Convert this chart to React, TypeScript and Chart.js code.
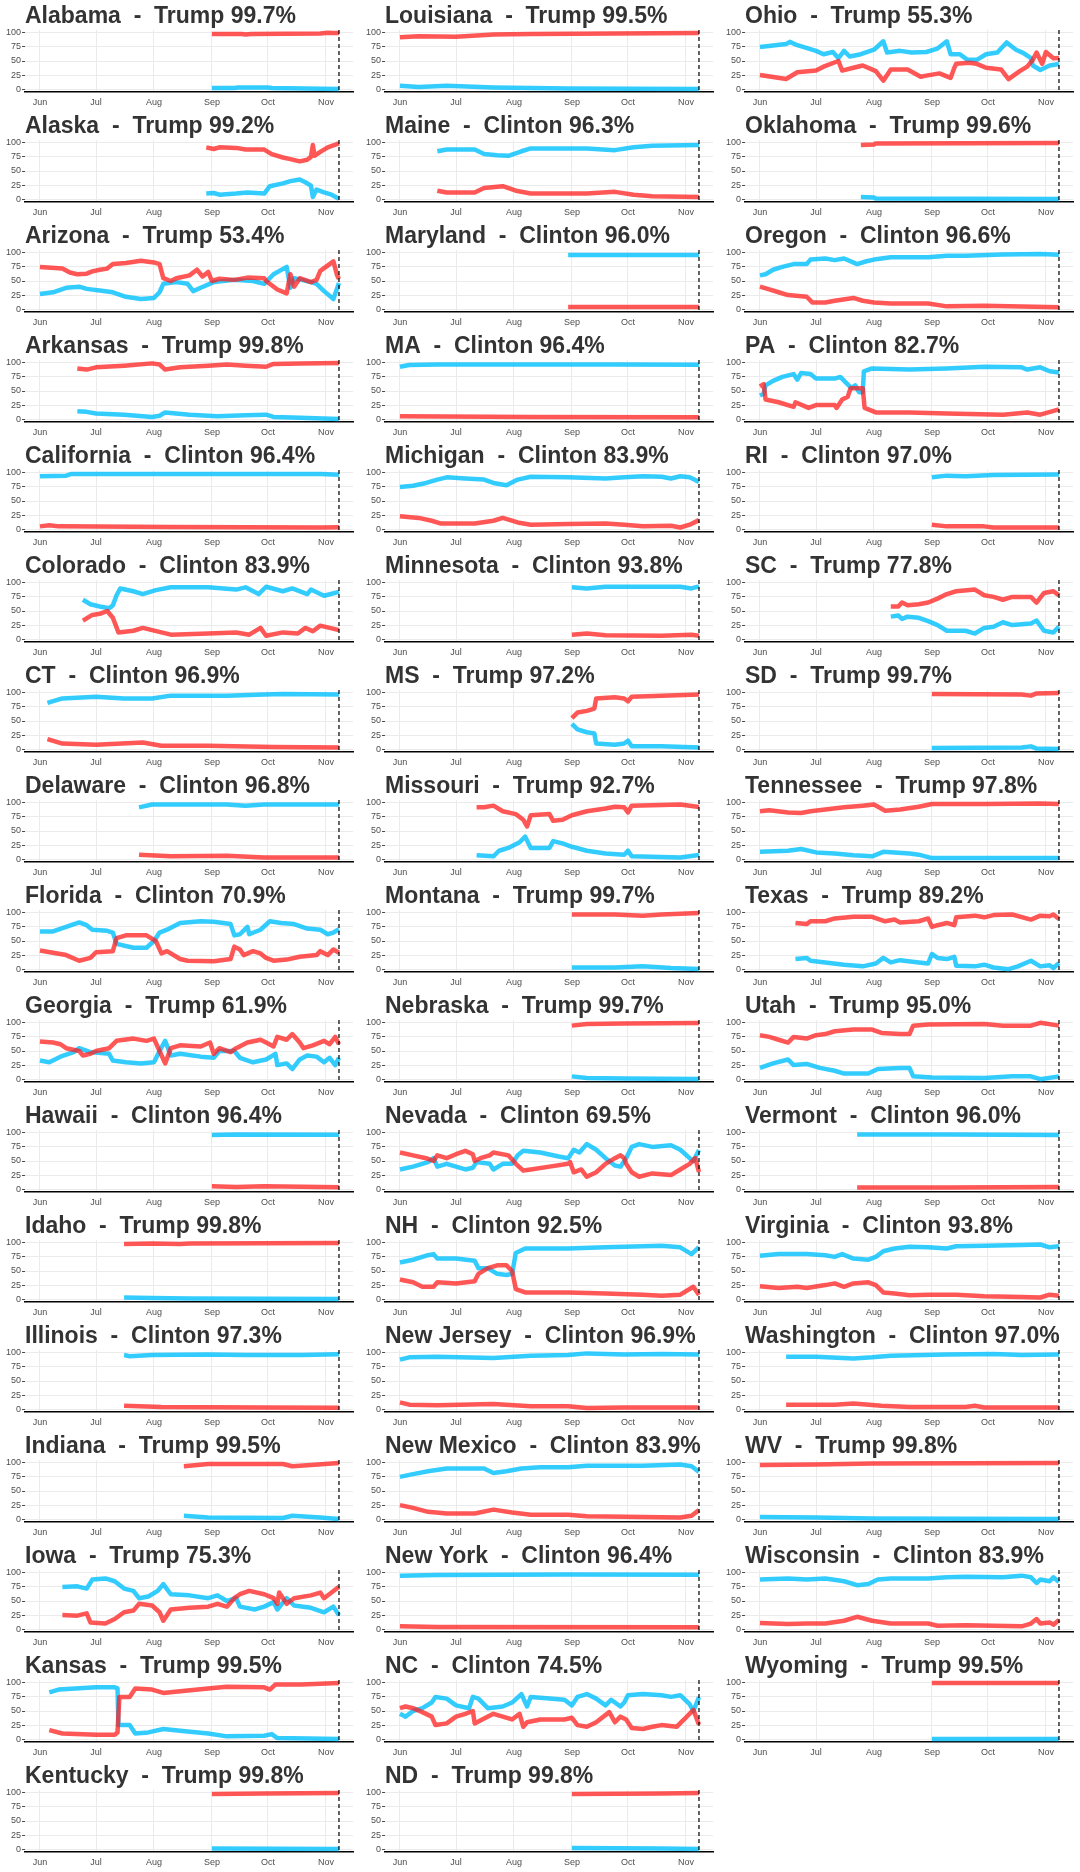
import React, { useEffect, useRef } from "react";
import { Chart, registerables } from "chart.js";
Chart.register(...registerables);

type P = [number, number];

// x values are days since June 1, 2016
const MONTH_DAYS = [0, 30, 61, 92, 122, 153];
const MONTH_LABELS = ["Jun", "Jul", "Aug", "Sep", "Oct", "Nov"];
const Y_TICKS = [0, 25, 50, 75, 100];
const ELECTION_DAY = 160;

const STATE_NAMES = [
  "Alabama", "Alaska", "Arizona", "Arkansas", "California", "Colorado", "CT", "Delaware", "Florida", "Georgia", "Hawaii", "Idaho", "Illinois", "Indiana", "Iowa", "Kansas", "Kentucky",
  "Louisiana", "Maine", "Maryland", "MA", "Michigan", "Minnesota", "MS", "Missouri", "Montana", "Nebraska", "Nevada", "NH", "New Jersey", "New Mexico", "New York", "NC", "ND",
  "Ohio", "Oklahoma", "Oregon", "PA", "RI", "SC", "SD", "Tennessee", "Texas", "Utah", "Vermont", "Virginia", "Washington", "WV", "Wisconsin", "Wyoming",
];
const LEADERS = [
  "Trump 99.7%", "Trump 99.2%", "Trump 53.4%", "Trump 99.8%", "Clinton 96.4%", "Clinton 83.9%", "Clinton 96.9%", "Clinton 96.8%", "Clinton 70.9%", "Trump 61.9%", "Clinton 96.4%", "Trump 99.8%", "Clinton 97.3%", "Trump 99.5%", "Trump 75.3%", "Trump 99.5%", "Trump 99.8%",
  "Trump 99.5%", "Clinton 96.3%", "Clinton 96.0%", "Clinton 96.4%", "Clinton 83.9%", "Clinton 93.8%", "Trump 97.2%", "Trump 92.7%", "Trump 99.7%", "Trump 99.7%", "Clinton 69.5%", "Clinton 92.5%", "Clinton 96.9%", "Clinton 83.9%", "Clinton 96.4%", "Clinton 74.5%", "Trump 99.8%",
  "Trump 55.3%", "Trump 99.6%", "Clinton 96.6%", "Clinton 82.7%", "Clinton 97.0%", "Trump 77.8%", "Trump 99.7%", "Trump 97.8%", "Trump 89.2%", "Trump 95.0%", "Clinton 96.0%", "Clinton 93.8%", "Clinton 97.0%", "Trump 99.8%", "Clinton 83.9%", "Trump 99.5%",
];

// ---- series: [day, probability %] ----
const AL_T: P[] = [[92,98],[108,98],[110,97],[113,98],[150,99],[154,100],[157,99.5],[160,99.7]];
const AL_C: P[] = [[92,2],[104,2],[106,3],[122,3],[124,2],[160,0.3]];
const AK_T: P[] = [[89,92],[93,89],[96,92],[105,91],[110,88],[120,88],[124,80],[130,74],[134,71],[139,67],[143,70],[145,75],[146,96],[147,77],[150,84],[154,92],[160,99.2]];
const AK_C: P[] = [[89,10],[93,11],[96,8],[105,10],[111,12],[120,10],[123,23],[130,28],[134,32],[139,35],[142,30],[145,24],[146,4],[148,17],[152,12],[156,8],[160,0.8]];
const AZ_T: P[] = [[0,75],[12,72],[16,65],[20,62],[25,63],[28,67],[32,70],[36,72],[39,80],[46,82],[54,86],[61,83],[64,80],[66,55],[70,50],[73,55],[80,60],[84,70],[87,58],[90,66],[92,50],[96,54],[104,52],[111,56],[120,55],[121,50],[127,35],[132,28],[134,62],[136,40],[139,55],[145,48],[148,52],[150,68],[155,80],[157,85],[159,60],[160,53.4]];
const AZ_C: P[] = [[0,27],[7,30],[14,38],[21,40],[25,36],[32,33],[39,30],[46,22],[54,18],[61,20],[64,30],[66,45],[73,48],[79,45],[82,32],[86,38],[93,48],[104,52],[114,50],[120,45],[125,62],[132,75],[134,38],[136,55],[145,48],[148,45],[152,32],[157,18],[160,46.6]];
const AR_T: P[] = [[20,90],[25,88],[30,92],[45,95],[60,99],[64,97],[67,88],[75,92],[90,95],[100,97],[110,95],[121,93],[125,98],[140,99],[160,99.8]];
const AR_C: P[] = [[20,14],[25,13],[30,10],[45,8],[60,4],[64,6],[67,12],[80,8],[95,5],[110,7],[121,8],[125,4],[135,3],[160,0.2]];
const CA_T: P[] = [[0,5],[5,7],[10,5],[70,4],[150,3],[160,3.6]];
const CA_C: P[] = [[0,94],[14,95],[17,98],[150,98],[160,96.4]];
const CO_T: P[] = [[23,33],[28,43],[32,45],[36,50],[39,38],[42,12],[50,15],[55,20],[65,12],[70,8],[90,10],[105,12],[112,8],[118,20],[121,6],[130,12],[138,10],[142,20],[146,14],[150,24],[160,16.1]];
const CO_C: P[] = [[23,70],[27,62],[32,58],[37,55],[39,60],[41,78],[43,90],[50,85],[55,80],[62,87],[70,92],[90,92],[105,88],[110,92],[117,80],[121,93],[130,85],[135,90],[143,80],[145,88],[152,77],[160,83.9]];
const CT_T: P[] = [[4,18],[12,10],[30,8],[55,12],[65,6],[90,6],[125,4],[160,3.1]];
const CT_C: P[] = [[4,82],[12,90],[30,93],[45,90],[60,90],[70,95],[100,95],[120,97],[130,98],[160,96.9]];
const DE_T: P[] = [[53,8],[70,5],[100,6],[120,3],[160,3.2]];
const DE_C: P[] = [[53,92],[60,97],[100,97],[110,95],[120,97],[160,96.8]];
const FL_T: P[] = [[0,33],[14,25],[21,15],[27,20],[30,30],[39,32],[41,55],[46,60],[57,60],[62,50],[65,28],[68,32],[75,18],[79,15],[93,14],[102,18],[104,40],[107,35],[109,25],[114,32],[118,28],[121,20],[125,15],[132,17],[139,22],[148,25],[150,32],[154,25],[157,35],[160,29.1]];
const FL_C: P[] = [[0,67],[7,67],[14,75],[21,83],[25,78],[28,70],[36,68],[39,65],[41,45],[50,38],[57,38],[61,50],[64,65],[68,70],[75,82],[86,85],[93,84],[102,80],[104,60],[107,62],[111,75],[112,62],[118,70],[123,85],[129,82],[136,80],[143,72],[150,70],[154,62],[157,65],[160,70.9]];
const GA_T: P[] = [[0,67],[7,65],[11,62],[14,55],[21,50],[23,42],[27,45],[30,50],[37,55],[41,68],[50,72],[57,68],[61,72],[64,50],[67,28],[70,55],[75,60],[86,58],[91,65],[93,45],[96,55],[102,48],[105,55],[111,65],[118,70],[121,65],[125,58],[127,75],[132,70],[135,80],[139,65],[141,55],[146,60],[152,68],[155,62],[158,75],[160,61.9]];
const GA_C: P[] = [[0,33],[5,30],[11,40],[18,48],[21,55],[27,48],[37,45],[39,33],[46,30],[54,28],[61,30],[64,50],[67,68],[70,42],[75,45],[86,40],[93,38],[96,50],[104,50],[107,38],[114,30],[121,35],[126,45],[127,25],[132,28],[135,18],[139,35],[143,42],[148,40],[152,30],[155,38],[158,25],[160,38.1]];
const HI_T: P[] = [[92,5],[105,4],[120,5],[160,3.6]];
const HI_C: P[] = [[92,96],[105,97],[160,96.4]];
const ID_T: P[] = [[45,98],[60,99],[75,98],[80,99],[160,99.8]];
const ID_C: P[] = [[45,3],[60,2],[80,1],[160,0.2]];
const IL_T: P[] = [[45,6],[65,4],[120,3],[160,2.7]];
const IL_C: P[] = [[45,96],[48,94],[60,96],[90,97],[110,96],[140,96],[160,97.3]];
const IN_T: P[] = [[77,94],[90,98],[130,98],[135,94],[145,96],[160,99.5]];
const IN_C: P[] = [[77,6],[90,3],[130,2],[135,6],[150,3],[160,0.5]];
const IA_T: P[] = [[12,25],[20,24],[25,28],[27,12],[35,10],[40,18],[45,30],[50,33],[53,45],[60,42],[64,30],[66,15],[70,35],[80,38],[90,40],[95,45],[100,40],[104,55],[107,62],[112,68],[120,62],[125,55],[127,45],[128,65],[132,45],[136,55],[145,60],[150,65],[152,55],[156,65],[160,75.3]];
const IA_C: P[] = [[12,75],[20,76],[25,72],[28,88],[35,90],[40,85],[45,72],[50,68],[53,55],[58,58],[63,68],[66,80],[70,62],[80,60],[90,55],[95,60],[100,50],[105,55],[107,40],[115,35],[120,40],[125,48],[127,35],[132,55],[136,42],[145,38],[152,30],[157,40],[160,24.7]];
const KS_T: P[] = [[5,16],[12,10],[30,8],[40,8],[41.5,12],[42.5,75],[48,75],[51,90],[60,88],[66,82],[75,85],[90,90],[100,93],[120,92],[123,88],[126,97],[140,97],[160,99.5]];
const KS_C: P[] = [[5,83],[10,88],[30,92],[40,92],[41.5,90],[42,25],[48,25],[51,10],[58,12],[66,18],[75,15],[90,10],[100,5],[120,6],[124,9],[127,2],[160,0.5]];
const KY_T: P[] = [[92,98],[120,99],[160,99.8]];
const KY_C: P[] = [[92,1],[160,0.2]];
const LA_T: P[] = [[0,92],[10,94],[30,93],[50,97],[70,98],[160,99.5]];
const LA_C: P[] = [[0,6],[10,4],[25,6],[50,3],[90,1],[160,0.5]];
const ME_T: P[] = [[20,15],[25,12],[40,12],[45,20],[55,23],[62,15],[70,10],[100,10],[115,13],[125,8],[135,5],[160,3.7]];
const ME_C: P[] = [[20,85],[25,88],[40,88],[45,80],[52,78],[58,77],[65,85],[70,90],[100,90],[115,87],[125,92],[135,95],[160,96.3]];
const MD_T: P[] = [[90,4],[125,4],[160,4]];
const MD_C: P[] = [[90,96],[125,96],[160,96]];
const MA_T: P[] = [[0,5],[70,4],[160,3.6]];
const MA_C: P[] = [[0,93],[5,96],[20,97],[115,97],[160,96.4]];
const MI_T: P[] = [[0,23],[10,20],[17,15],[22,10],[40,10],[50,15],[55,20],[63,12],[70,8],[90,9],[110,10],[120,8],[130,5],[145,6],[150,3],[155,8],[160,16.1]];
const MI_C: P[] = [[0,75],[7,77],[14,82],[20,88],[25,92],[35,90],[45,88],[50,82],[57,78],[63,88],[70,93],[90,92],[110,90],[120,92],[130,94],[140,93],[145,90],[150,94],[155,92],[160,83.9]];
const MN_T: P[] = [[92,8],[100,10],[110,7],[140,6],[156,8],[160,6.2]];
const MN_C: P[] = [[92,92],[100,90],[110,93],[150,93],[156,90],[160,93.8]];
const MS_T: P[] = [[92,55],[95,65],[100,68],[104,72],[105,90],[115,92],[120,90],[122,85],[124,93],[140,95],[160,97.2]];
const MS_C: P[] = [[92,45],[95,35],[100,30],[104,28],[105,10],[115,8],[120,10],[122,15],[124,5],[140,5],[160,2.8]];
const MO_T: P[] = [[41,92],[45,92],[50,95],[55,85],[62,80],[66,70],[68,58],[70,78],[80,80],[82,68],[87,70],[92,78],[100,85],[110,90],[115,93],[120,92],[122,83],[124,95],[140,96],[150,97],[160,92.7]];
const MO_C: P[] = [[41,7],[50,5],[53,15],[58,20],[64,30],[67,40],[70,20],[80,20],[82,32],[87,28],[92,22],[100,15],[110,10],[120,8],[122,15],[124,5],[150,3],[160,7.3]];
const MT_T: P[] = [[92,97],[115,97],[130,95],[140,97],[160,99.7]];
const MT_C: P[] = [[92,3],[115,3],[130,5],[145,2],[160,0.3]];
const NE_T: P[] = [[92,95],[100,98],[120,99],[160,99.7]];
const NE_C: P[] = [[92,5],[100,2],[120,1],[160,0.3]];
const NV_T: P[] = [[0,65],[7,60],[14,55],[18,50],[20,60],[25,55],[30,62],[35,68],[39,62],[40,50],[43,55],[48,60],[50,65],[58,60],[62,45],[66,33],[70,35],[80,40],[90,45],[91,48],[93,30],[97,35],[100,22],[105,30],[110,45],[115,55],[118,60],[120,55],[121,45],[124,30],[128,22],[135,28],[145,25],[150,35],[155,45],[158,55],[160,30.5]];
const NV_C: P[] = [[0,35],[7,40],[15,48],[18,55],[20,40],[25,45],[30,40],[35,35],[39,38],[41,48],[48,45],[50,35],[55,45],[60,45],[63,60],[66,68],[75,65],[85,58],[90,55],[93,70],[96,65],[100,80],[105,70],[110,55],[115,42],[118,40],[121,55],[124,75],[128,80],[135,75],[145,78],[150,70],[155,55],[157,50],[160,69.5]];
const NH_T: P[] = [[0,35],[7,30],[12,22],[18,22],[20,30],[30,28],[40,32],[42,45],[47,55],[52,60],[57,60],[60,50],[62,18],[67,12],[90,12],[110,10],[130,8],[140,6],[150,8],[157,22],[160,7.5]];
const NH_C: P[] = [[0,65],[7,70],[15,78],[18,80],[20,72],[30,72],[40,68],[42,55],[47,55],[52,45],[57,43],[60,45],[62,82],[67,90],[90,90],[110,92],[130,94],[140,95],[150,92],[156,80],[160,92.5]];
const NJ_T: P[] = [[0,12],[5,8],[20,7],[50,9],[70,5],[90,5],[100,2],[120,3],[160,3.1]];
const NJ_C: P[] = [[0,88],[5,92],[20,93],[50,91],[70,95],[90,96],[100,99],[120,97],[140,98],[160,96.9]];
const NM_T: P[] = [[0,25],[7,20],[15,13],[25,10],[40,10],[50,17],[60,12],[70,8],[90,8],[100,5],[130,4],[150,3],[156,6],[160,16.1]];
const NM_C: P[] = [[0,75],[7,80],[15,85],[25,90],[45,90],[50,82],[57,85],[65,90],[75,92],[90,92],[100,95],[130,95],[150,97],[156,94],[160,83.9]];
const NY_T: P[] = [[0,5],[20,4],[160,3.6]];
const NY_C: P[] = [[0,95],[20,96],[90,97],[160,96.4]];
const NC_T: P[] = [[0,55],[3,58],[7,55],[12,48],[17,40],[19,25],[25,28],[30,40],[35,45],[39,50],[40,28],[44,35],[50,45],[55,40],[60,35],[64,45],[66,22],[68,30],[75,35],[88,35],[92,38],[95,25],[100,22],[105,30],[112,48],[115,30],[118,40],[121,35],[124,20],[130,18],[135,22],[140,25],[148,22],[152,35],[157,52],[160,25.5]];
const NC_C: P[] = [[0,45],[3,40],[7,50],[12,55],[17,65],[19,75],[25,72],[30,60],[37,55],[39,75],[42,72],[47,55],[55,58],[60,65],[65,80],[68,58],[70,75],[80,72],[88,70],[92,60],[95,75],[100,80],[105,72],[110,60],[113,70],[118,58],[120,65],[122,78],[130,80],[140,78],[145,75],[150,78],[155,62],[157,50],[160,74.5]];
const ND_T: P[] = [[92,98],[140,99],[160,99.8]];
const ND_C: P[] = [[92,2],[140,1],[160,0.2]];
const OH_T: P[] = [[0,25],[14,18],[20,30],[30,33],[34,40],[42,50],[44,33],[50,38],[55,42],[62,32],[66,15],[70,35],[79,35],[86,22],[89,24],[96,28],[102,20],[104,38],[105,45],[112,47],[116,45],[121,38],[129,35],[133,18],[139,32],[143,40],[146,52],[148,65],[151,45],[153,66],[157,55],[160,55.3]];
const OH_C: P[] = [[0,75],[14,80],[16,84],[20,78],[30,68],[34,62],[39,66],[42,55],[45,68],[48,58],[54,62],[61,70],[66,85],[68,65],[75,68],[81,65],[89,66],[95,72],[100,85],[102,62],[107,62],[111,52],[116,52],[121,62],[127,65],[132,83],[137,70],[141,64],[145,55],[146,42],[150,34],[155,42],[160,44.7]];
const OK_T: P[] = [[54,96],[61,97],[62,99],[160,99.6]];
const OK_C: P[] = [[54,4],[61,3],[62,1],[160,0.4]];
const OR_T: P[] = [[0,40],[5,35],[10,30],[15,25],[25,22],[28,12],[35,12],[40,15],[50,20],[55,15],[61,12],[70,10],[90,10],[100,5],[120,6],[160,3.4]];
const OR_C: P[] = [[0,60],[3,62],[7,70],[12,75],[18,80],[25,80],[27,88],[35,90],[40,87],[45,90],[52,80],[57,85],[61,88],[70,92],[90,92],[100,95],[110,95],[130,97],[150,98],[160,96.6]];
const PA_T: P[] = [[0,58],[2,62],[3,35],[10,30],[18,22],[19,30],[26,20],[30,25],[40,25],[41,20],[44,35],[47,40],[48.5,55],[55,55],[56,20],[62,12],[80,12],[100,10],[130,8],[143,12],[150,8],[160,17.3]];
const PA_C: P[] = [[0,42],[2,45],[3,60],[7,68],[12,75],[18,80],[20,70],[22,82],[27,80],[30,72],[40,72],[43,75],[46,65],[49,55],[51,60],[53,48],[55,48],[55.6,85],[60,90],[80,88],[100,90],[120,93],[140,92],[143,88],[150,92],[155,85],[160,82.7]];
const RI_T: P[] = [[92,8],[100,5],[120,5],[125,3],[160,3]];
const RI_C: P[] = [[92,92],[100,95],[110,94],[125,96],[160,97]];
const SC_T: P[] = [[70,58],[74,58],[76,65],[79,60],[85,62],[90,65],[95,72],[100,80],[105,85],[115,88],[120,78],[125,75],[130,70],[135,75],[145,75],[148,65],[152,82],[157,85],[160,77.8]];
const SC_C: P[] = [[70,40],[74,42],[76,36],[79,40],[85,38],[90,32],[95,25],[100,15],[110,15],[115,10],[120,20],[125,22],[130,30],[135,25],[145,28],[148,33],[152,15],[157,12],[160,22.2]];
const SD_T: P[] = [[92,98],[140,97],[145,95],[148,99],[160,99.7]];
const SD_C: P[] = [[92,2],[140,3],[145,5],[148,1],[160,0.3]];
const TN_T: P[] = [[0,85],[5,87],[15,83],[22,82],[27,85],[35,88],[45,92],[55,95],[61,97],[67,86],[75,88],[85,93],[92,98],[120,98],[150,99],[160,97.8]];
const TN_C: P[] = [[0,13],[15,15],[22,18],[30,12],[40,10],[50,7],[60,5],[66,13],[80,10],[85,8],[92,2],[150,2],[160,2.2]];
const TX_T: P[] = [[19,82],[25,80],[27,85],[35,85],[40,90],[50,93],[60,93],[67,85],[72,88],[75,83],[85,85],[90,90],[92,75],[95,78],[100,82],[104,78],[105,92],[115,95],[120,92],[125,96],[135,97],[145,88],[150,95],[155,94],[157,97],[160,89.2]];
const TX_C: P[] = [[19,18],[25,20],[27,15],[35,12],[45,8],[55,5],[62,10],[66,20],[70,12],[75,16],[85,12],[90,10],[92,27],[95,20],[100,18],[104,22],[105,6],[115,5],[120,8],[125,3],[133,0],[138,5],[145,15],[150,5],[155,7],[157,2],[160,10.8]];
const UT_T: P[] = [[0,78],[5,75],[10,70],[15,65],[18,75],[25,72],[30,78],[35,80],[40,85],[50,88],[60,88],[65,82],[75,80],[80,80],[82,95],[90,97],[120,98],[130,95],[145,95],[150,100],[160,95]];
const UT_C: P[] = [[0,20],[7,28],[15,35],[18,25],[25,27],[32,20],[40,15],[45,10],[58,10],[63,18],[75,20],[80,20],[82,5],[92,3],[120,2],[135,5],[145,5],[150,0],[160,5]];
const VT_T: P[] = [[52,3],[100,3],[160,4]];
const VT_C: P[] = [[52,97],[100,97],[160,96]];
const VA_T: P[] = [[0,23],[10,20],[20,22],[25,20],[35,25],[40,28],[45,22],[50,28],[58,30],[62,25],[66,12],[72,10],[80,7],[90,8],[105,8],[120,5],[140,4],[150,3],[155,8],[160,6.2]];
const VA_C: P[] = [[0,77],[10,80],[25,80],[35,78],[40,75],[44,80],[50,72],[58,70],[62,75],[66,85],[72,90],[80,93],[90,92],[100,90],[105,94],[120,95],[140,96],[150,97],[155,92],[160,93.8]];
const WA_T: P[] = [[14,8],[40,8],[50,10],[65,6],[80,4],[110,4],[115,6],[120,3],[160,3]];
const WA_C: P[] = [[14,93],[30,93],[50,90],[60,92],[70,95],[100,97],[125,98],[140,96],[160,97]];
const WV_T: P[] = [[0,96],[30,97],[60,99],[160,99.8]];
const WV_C: P[] = [[0,4],[30,3],[60,1],[160,0.2]];
const WI_T: P[] = [[0,11],[15,9],[25,10],[35,10],[45,15],[52,22],[60,15],[70,10],[90,10],[95,6],[110,7],[140,5],[145,10],[148,18],[150,10],[155,12],[157,8],[160,16.1]];
const WI_C: P[] = [[0,88],[15,90],[25,88],[35,90],[45,85],[52,78],[58,80],[63,88],[70,90],[90,90],[100,92],[110,93],[130,92],[140,95],[145,92],[148,82],[150,88],[155,85],[157,92],[160,83.9]];
const WY_T: P[] = [[92,99.5],[160,99.5]];
const WY_C: P[] = [[92,0.5],[160,0.5]];

const TRUMP_SERIES: P[][] = [
  AL_T, AK_T, AZ_T, AR_T, CA_T, CO_T, CT_T, DE_T, FL_T, GA_T, HI_T, ID_T, IL_T, IN_T, IA_T, KS_T, KY_T,
  LA_T, ME_T, MD_T, MA_T, MI_T, MN_T, MS_T, MO_T, MT_T, NE_T, NV_T, NH_T, NJ_T, NM_T, NY_T, NC_T, ND_T,
  OH_T, OK_T, OR_T, PA_T, RI_T, SC_T, SD_T, TN_T, TX_T, UT_T, VT_T, VA_T, WA_T, WV_T, WI_T, WY_T,
];
const CLINTON_SERIES: P[][] = [
  AL_C, AK_C, AZ_C, AR_C, CA_C, CO_C, CT_C, DE_C, FL_C, GA_C, HI_C, ID_C, IL_C, IN_C, IA_C, KS_C, KY_C,
  LA_C, ME_C, MD_C, MA_C, MI_C, MN_C, MS_C, MO_C, MT_C, NE_C, NV_C, NH_C, NJ_C, NM_C, NY_C, NC_C, ND_C,
  OH_C, OK_C, OR_C, PA_C, RI_C, SC_C, SD_C, TN_C, TX_C, UT_C, VT_C, VA_C, WA_C, WV_C, WI_C, WY_C,
];

const PANEL_W = 360;
const PANEL_H = 110;
const ROWS = 17;
const RED = "rgba(255,30,30,0.75)";
const BLUE = "rgba(0,191,255,0.8)";
const FONT = "'Liberation Sans', Arial, sans-serif";

const electionLine = {
  id: "electionLine",
  afterDatasetsDraw(chart: any) {
    const { ctx, chartArea, scales } = chart;
    const x = scales.x.getPixelForValue(ELECTION_DAY);
    ctx.save();
    ctx.strokeStyle = "#000";
    ctx.lineWidth = 1.2;
    ctx.setLineDash([4, 3]);
    ctx.beginPath();
    ctx.moveTo(x, chartArea.top);
    ctx.lineTo(x, chartArea.bottom);
    ctx.stroke();
    ctx.restore();
  },
};

function Panel({ title, trump, clinton }: { title: string; trump: P[]; clinton: P[] }) {
  const ref = useRef<HTMLCanvasElement>(null);
  useEffect(() => {
    const line = (pts: P[], color: string) => ({
      data: pts.map(([x, y]) => ({ x, y })),
      borderColor: color,
      backgroundColor: color,
      borderWidth: 4.5,
      pointRadius: 0,
      tension: 0,
      fill: false,
      borderCapStyle: "butt",
      borderJoinStyle: "round",
    });
    const chart = new Chart(ref.current as HTMLCanvasElement, {
      type: "line",
      data: { datasets: [line(trump, RED), line(clinton, BLUE)] as any },
      options: {
        animation: false,
        responsive: false,
        layout: { padding: { left: 0, right: 7, top: 0, bottom: 0 } },
        plugins: {
          legend: { display: false },
          tooltip: { enabled: false },
          title: {
            display: true,
            text: title,
            align: "start",
            fullSize: false,
            color: "#333333",
            font: { family: FONT, size: 23, weight: "bold", lineHeight: 1 },
            padding: { top: 5, bottom: 2 },
          },
        },
        scales: {
          x: {
            type: "linear",
            min: -8,
            max: 167.5,
            afterBuildTicks: (s: any) => {
              s.ticks = MONTH_DAYS.map((v) => ({ value: v }));
            },
            afterFit: (s: any) => {
              s.height = 18;
            },
            ticks: {
              callback: (_v: any, i: number) => MONTH_LABELS[i],
              autoSkip: false,
              maxRotation: 0,
              color: "#4D4D4D",
              font: { family: FONT, size: 9 },
              padding: 5,
            },
            grid: { color: "#EBEBEB", lineWidth: 1, drawTicks: false },
            border: { display: true, color: "#000", width: 1.5 },
          },
          y: {
            type: "linear",
            min: -5,
            max: 105,
            afterBuildTicks: (s: any) => {
              s.ticks = Y_TICKS.map((v) => ({ value: v }));
            },
            afterFit: (s: any) => {
              s.width = 25;
            },
            ticks: {
              color: "#4D4D4D",
              font: { family: FONT, size: 9 },
              padding: 1,
            },
            grid: { color: "#EBEBEB", lineWidth: 1, tickLength: 3, tickColor: "#4D4D4D", drawTicks: true },
            border: { display: false },
          },
        },
      } as any,
      plugins: [electionLine],
    });
    return () => chart.destroy();
  }, [title, trump, clinton]);
  return <canvas ref={ref} width={PANEL_W} height={PANEL_H} style={{ display: "block", width: PANEL_W, height: PANEL_H }} />;
}

export default function App() {
  return (
    <div style={{ position: "absolute", left: 0, top: 0, width: 1080, height: 1872, background: "#fff" }}>
      {STATE_NAMES.map((name, i) => {
        const col = Math.floor(i / ROWS);
        const row = i % ROWS;
        return (
          <div key={name} style={{ position: "absolute", left: col * PANEL_W, top: row * PANEL_H, width: PANEL_W, height: PANEL_H }}>
            <Panel title={`${name}  -  ${LEADERS[i]}`} trump={TRUMP_SERIES[i]} clinton={CLINTON_SERIES[i]} />
          </div>
        );
      })}
    </div>
  );
}
